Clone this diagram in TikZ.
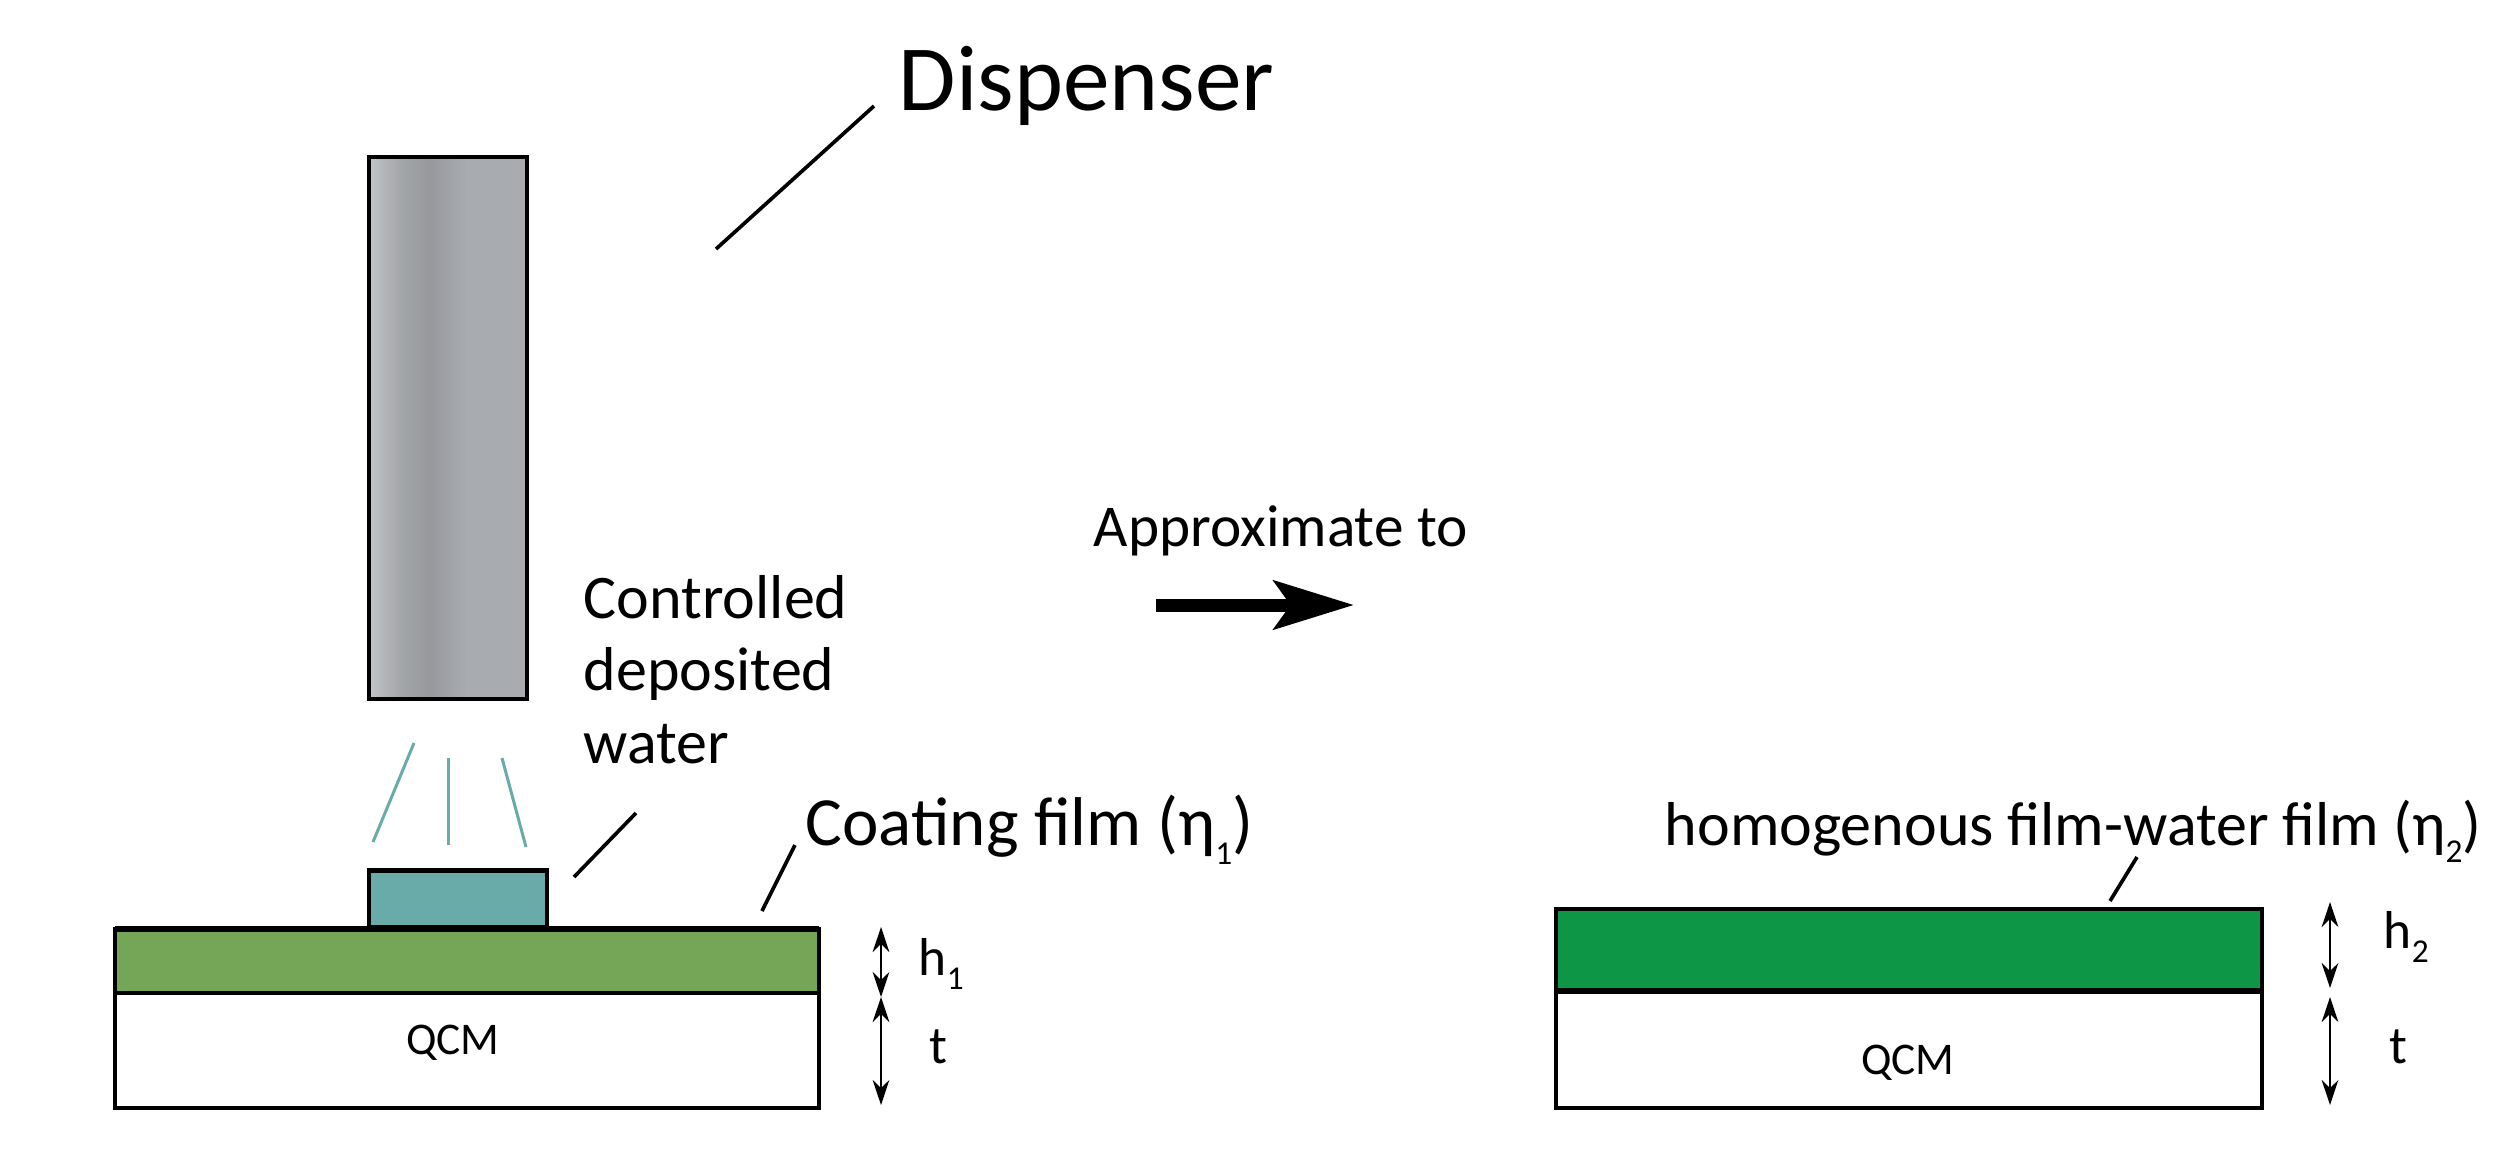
\documentclass[tikz,border=0pt]{standalone}
\usepackage{fontspec}
\setmainfont{Carlito}
\usetikzlibrary{arrows.meta}

\definecolor{disptop}{rgb}{0.76,0.77,0.78}
\definecolor{dispdark}{rgb}{0.59,0.60,0.61}
\definecolor{dispend}{rgb}{0.66,0.67,0.69}
\definecolor{watercol}{rgb}{0.41,0.67,0.66}
\definecolor{filmone}{rgb}{0.46,0.65,0.34}
\definecolor{filmtwo}{rgb}{0.05,0.59,0.27}

\pgfdeclarehorizontalshading{dispshade}{100bp}{color(0bp)=(disptop); color(25bp)=(disptop); color(35bp)=(dispdark!70!disptop); color(44bp)=(dispdark); color(56bp)=(dispend); color(75bp)=(dispend); color(100bp)=(dispend)}

\newcommand{\subnum}[1]{\raisebox{-0.28em}{\fontsize{10}{10}\selectfont #1}}

\tikzset{every picture/.style={line width=1.1pt},
  leader/.style={line width=1.1pt},
  spray/.style={color=watercol,line width=0.9pt},
  dimarrow/.style={{Stealth[length=7.5pt,width=5pt]}-{Stealth[length=7.5pt,width=5pt]},line width=0.75pt},
  labeltext/.style={anchor=base west,inner sep=0pt,font=\fontsize{18.6}{21.75}\selectfont},
  qcmtext/.style={inner sep=0pt,font=\fontsize{13.6}{16}\selectfont},
  dimtext/.style={anchor=base west,inner sep=0pt,font=\fontsize{16}{18}\selectfont}}

\begin{document}
\begin{tikzpicture}[x=0.3pt,y=0.3pt,yscale=-1,xscale=1]
\useasboundingbox (0,0) rectangle (2504,1155);

%Shape: Rectangle
\draw [shading=dispshade] (369,157) rectangle (527,699);
%Shape: Rectangle
\draw [fill=white] (115,993) rectangle (819,1108);
%Shape: Rectangle
\draw [fill=filmone] (115,929) rectangle (819,993);
%Straight Lines
\draw [line width=1.6pt] (115,929) -- (819,929);
%Shape: Rectangle
\draw [fill=watercol] (369,870) rectangle (547,927);
%Straight Lines
\draw [line width=1.5pt] (369,870) -- (547,870);
%Shape: Rectangle
\draw [fill=filmtwo] (1556,909) rectangle (2262,990);
%Shape: Rectangle
\draw [fill=white] (1556,992) rectangle (2262,1108);
%Straight Lines
\draw [line width=1.7pt] (1556,991) -- (2262,991);

% Leader ends
\coordinate (dispa) at (874,106);
\coordinate (dispb) at (716,249);
\coordinate (watera) at (636,813);
\coordinate (waterb) at (574,877);
\coordinate (coata) at (795,845);
\coordinate (coatb) at (762,911);
\coordinate (homoa) at (2137,857);
\coordinate (homob) at (2110,901);
%Straight Lines
\draw [leader] (dispa) -- (dispb);
\draw [leader] (watera) -- (waterb);
\draw [leader] (coata) -- (coatb);
\draw [leader] (homoa) -- (homob);

% Spray ends
\coordinate (spla) at (414,743);
\coordinate (splb) at (373,842);
\coordinate (spma) at (448,758);
\coordinate (spmb) at (448,845);
\coordinate (spra) at (502,758);
\coordinate (sprb) at (526,847);
%Straight Lines
\draw [spray] (spla) -- (splb);
\draw [spray] (spma) -- (spmb);
\draw [spray] (spra) -- (sprb);

% Dimension arrows
\coordinate (hla) at (881,927);
\coordinate (hlb) at (881,997);
\coordinate (tla) at (881,997);
\coordinate (tlb) at (881,1105);
\coordinate (hra) at (2330,902);
\coordinate (hrb) at (2330,988);
\coordinate (tra) at (2330,997);
\coordinate (trb) at (2330,1105);
\draw [dimarrow] (hla) -- (hlb);
\draw [dimarrow] (tla) -- (tlb);
\draw [dimarrow] (hra) -- (hrb);
\draw [dimarrow] (tra) -- (trb);

% Big arrow
\coordinate (biga) at (1156,605);
\coordinate (bigb) at (1354,605);
\draw [-{Stealth[length=24pt,width=14.5pt,inset=5pt]},line width=3.9pt] (biga) -- (bigb);

% Text Node
\node (disptext) at (897,110) [anchor=base west,inner sep=0pt,font=\fontsize{28}{30}\selectfont] {Dispenser};
% Text Node
\node (contrtext) at (582,618) [labeltext] {Controlled};
% Text Node
\node (deptext) at (582,690) [labeltext] {deposited};
% Text Node
\node (wattext) at (582,763) [labeltext] {water};
% Text Node
\node (approxtext) at (1092,546) [labeltext,font=\fontsize{17.8}{21}\selectfont] {Approximate to};
% Text Node
\node (coattext) at (804,845) [labeltext,font=\fontsize{20.7}{24}\selectfont] {Coating film (η\subnum{1})};
% Text Node
\node (homotext) at (1663,845) [labeltext] {homogenous film-water film (η\subnum{2})};
% Text Node
\node (qcmleft) at (453,1043) [qcmtext] {QCM};
% Text Node
\node (qcmright) at (1908,1063) [qcmtext] {QCM};
% Text Node
\node (hltext) at (917,975) [dimtext] {h\subnum{1}};
% Text Node
\node (tltext) at (928,1063) [dimtext] {t};
% Text Node
\node (hrtext) at (2382,948) [dimtext] {h\subnum{2}};
% Text Node
\node (trtext) at (2388,1063) [dimtext] {t};

\end{tikzpicture}
\end{document}
